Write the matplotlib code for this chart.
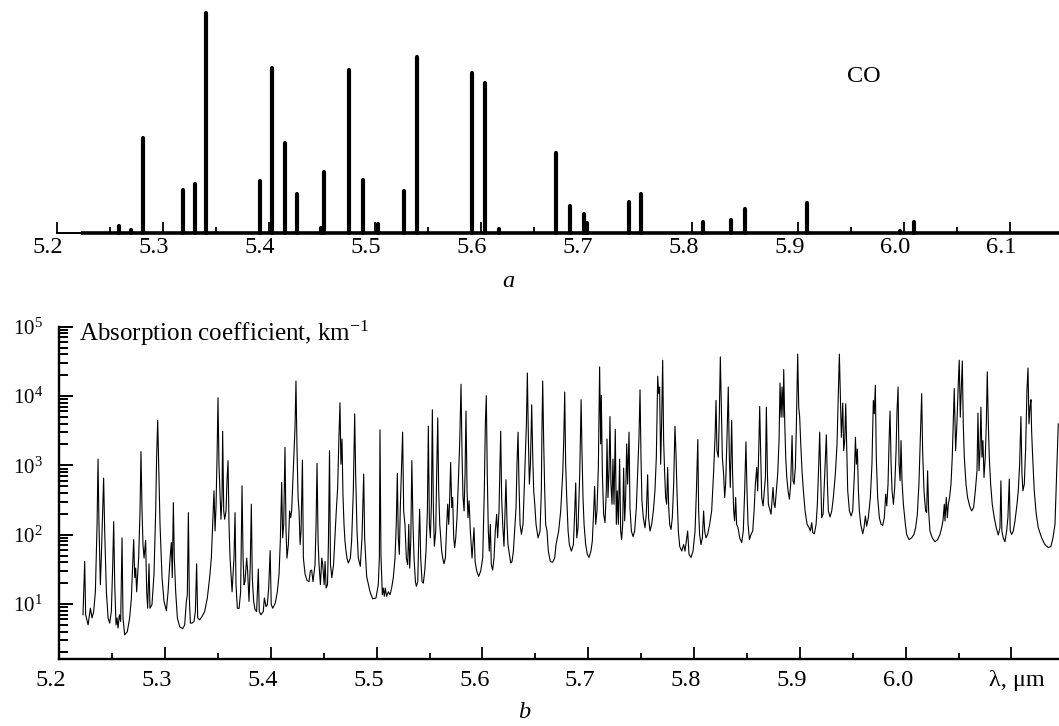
import matplotlib
matplotlib.use("Agg")
import matplotlib.pyplot as plt
import matplotlib.transforms as mtransforms
from matplotlib.ticker import MultipleLocator, LogLocator, FixedLocator, FixedFormatter, NullFormatter, LogFormatterMathtext

# ---------------- data: panel a (CO line intensities, relative) ----------------
co_wavelength = [5.2586, 5.2696, 5.2810, 5.3185, 5.3298, 5.3408, 5.3912, 5.4025, 5.4148, 5.4264,
                 5.4491, 5.4517, 5.4758, 5.4888, 5.5032, 5.5272, 5.5398, 5.5917, 5.6040, 5.6175,
                 5.6714, 5.6840, 5.6973, 5.7005, 5.7398, 5.7514, 5.8097, 5.8364, 5.8496, 5.9082,
                 5.9961, 6.0096]
co_intensity = [0.033, 0.015, 0.433, 0.196, 0.222, 1.000, 0.237, 0.751, 0.411, 0.178,
                0.024, 0.277, 0.740, 0.242, 0.042, 0.192, 0.801, 0.725, 0.683, 0.021,
                0.363, 0.122, 0.087, 0.045, 0.141, 0.178, 0.053, 0.059, 0.109, 0.139,
                0.012, 0.053]

# ---------------- data: panel b (absorption coefficient, km^-1) ----------------
lam_1 = [5.2224, 5.2240, 5.2249, 5.2272, 5.2294, 5.2309, 5.2325, 5.2341, 5.2357, 5.2366,
         5.2375, 5.2388, 5.2397, 5.2410, 5.2419, 5.2429, 5.2445, 5.2461, 5.2476, 5.2492,
         5.2505, 5.2514, 5.2524, 5.2536, 5.2546, 5.2555, 5.2568, 5.2580, 5.2593, 5.2602,
         5.2618, 5.2643, 5.2665, 5.2681, 5.2703, 5.2713, 5.2722, 5.2731, 5.2750, 5.2763,
         5.2772, 5.2782, 5.2791, 5.2801, 5.2816, 5.2826, 5.2835, 5.2848, 5.2857, 5.2876,
         5.2895, 5.2911, 5.2920, 5.2930, 5.2939, 5.2952, 5.2971, 5.2990, 5.3012, 5.3028,
         5.3047, 5.3059, 5.3068, 5.3078, 5.3087, 5.3100, 5.3116, 5.3138, 5.3166, 5.3185,
         5.3201, 5.3210, 5.3220, 5.3229, 5.3239, 5.3254, 5.3273, 5.3286, 5.3298, 5.3308,
         5.3327, 5.3349, 5.3374, 5.3399, 5.3421, 5.3437, 5.3450, 5.3462, 5.3472, 5.3481,
         5.3491, 5.3500, 5.3509, 5.3519, 5.3528, 5.3538, 5.3544, 5.3554, 5.3563, 5.3576,
         5.3585, 5.3595, 5.3604, 5.3614, 5.3633, 5.3651, 5.3661, 5.3670, 5.3683, 5.3699,
         5.3714, 5.3727, 5.3737, 5.3746]
k_1 = [7.0, 41, 7.0, 5.0, 8.7, 6.3, 7.8, 15, 141, 1230,
       141, 19, 46, 220, 655, 113, 15, 6.3, 5.3, 7.8,
       37, 154, 19, 5.0, 6.3, 4.5, 7.0, 5.6, 90, 6.3,
       3.6, 4.0, 6.3, 12, 85, 24, 33, 15, 46, 220,
       1580, 220, 72, 46, 83, 15, 8.7, 38, 8.7, 9.8,
       27, 220, 1310, 4440, 1040, 141, 24, 10.9, 8.0, 15,
       46, 77, 24, 290, 46, 15, 6.3, 4.7, 4.4, 5.0,
       10.9, 13.6, 208, 12.2, 5.3, 5.3, 5.6, 7.8, 38, 6.3,
       5.9, 6.6, 7.8, 12.2, 24, 46, 141, 429, 113, 246,
       1310, 9460, 1040, 384, 167, 344, 3110, 220, 167, 220,
       599, 1170, 141, 46, 15, 46, 208, 19, 8.7, 8.6,
       15, 507, 46, 19]

lam_2 = [5.3755, 5.3771, 5.3780, 5.3793, 5.3805, 5.3815, 5.3824, 5.3837, 5.3850, 5.3865,
         5.3881, 5.3890, 5.3906, 5.3928, 5.3938, 5.3954, 5.3966, 5.3979, 5.3993, 5.4003,
         5.4018, 5.4041, 5.4061, 5.4077, 5.4089, 5.4102, 5.4111, 5.4121, 5.4133, 5.4143,
         5.4152, 5.4165, 5.4177, 5.4187, 5.4196, 5.4206, 5.4215, 5.4228, 5.4237, 5.4247,
         5.4257, 5.4266, 5.4276, 5.4285, 5.4298, 5.4307, 5.4323, 5.4342, 5.4360, 5.4373,
         5.4385, 5.4398, 5.4417, 5.4427, 5.4436, 5.4446, 5.4455, 5.4468, 5.4481, 5.4490,
         5.4503, 5.4512, 5.4522, 5.4535, 5.4544, 5.4554, 5.4563, 5.4576, 5.4592, 5.4605,
         5.4618, 5.4631, 5.4643, 5.4653, 5.4662, 5.4672, 5.4681, 5.4691, 5.4700, 5.4710,
         5.4719, 5.4732, 5.4751, 5.4763, 5.4779, 5.4792, 5.4801, 5.4814, 5.4826, 5.4845,
         5.4861, 5.4877, 5.4886, 5.4905, 5.4937, 5.4962, 5.4993, 5.5015, 5.5025, 5.5031,
         5.5040, 5.5053, 5.5062, 5.5072, 5.5081, 5.5094, 5.5110, 5.5126, 5.5141, 5.5157,
         5.5173, 5.5185, 5.5195, 5.5204, 5.5214, 5.5223, 5.5236, 5.5245, 5.5255, 5.5267,
         5.5280, 5.5293, 5.5303, 5.5312, 5.5322, 5.5332]
k_2 = [21, 46, 30, 10.9, 37, 275, 24, 10.9, 8.3, 7.8,
       32, 7.8, 7.0, 7.8, 12.2, 9.2, 9.8, 17, 59, 9.8,
       8.7, 10.3, 15, 27, 81, 566, 90, 141, 1820, 113,
       46, 72, 220, 176, 220, 536, 1310, 3550, 16500, 1630,
       344, 220, 72, 113, 1190, 46, 27, 21.8, 21, 30,
       31, 21, 37, 141, 1070, 81, 37, 19, 46, 37,
       19, 41, 17, 19, 81, 1630, 37, 24, 37, 90,
       220, 480, 2540, 8000, 1040, 2400, 384, 141, 81, 58,
       46, 39, 46, 81, 429, 5540, 748, 113, 46, 35,
       90, 748, 90, 25, 15, 11.9, 12.2, 19, 46, 3250,
       52, 13.6, 17, 12.9, 17, 12.9, 15, 13.6, 17, 24,
       46, 141, 766, 90, 52, 246, 1040, 3010, 220, 141,
       46, 37, 141, 33, 81, 1170]

lam_3 = [5.5343, 5.5353, 5.5366, 5.5375, 5.5388, 5.5397, 5.5406, 5.5416, 5.5429, 5.5441,
         5.5454, 5.5466, 5.5479, 5.5488, 5.5498, 5.5507, 5.5517, 5.5526, 5.5536, 5.5545,
         5.5558, 5.5567, 5.5577, 5.5586, 5.5596, 5.5605, 5.5614, 5.5624, 5.5636, 5.5649,
         5.5662, 5.5671, 5.5681, 5.5690, 5.5699, 5.5709, 5.5718, 5.5728, 5.5737, 5.5747,
         5.5759, 5.5772, 5.5785, 5.5797, 5.5807, 5.5816, 5.5826, 5.5835, 5.5844, 5.5854,
         5.5863, 5.5873, 5.5885, 5.5901, 5.5920, 5.5930, 5.5945, 5.5964, 5.5983, 5.6002,
         5.6017, 5.6027, 5.6036, 5.6045, 5.6055, 5.6064, 5.6074, 5.6083, 5.6096, 5.6109,
         5.6121, 5.6134, 5.6143, 5.6156, 5.6172, 5.6181, 5.6191, 5.6203, 5.6213, 5.6222,
         5.6232, 5.6241, 5.6254, 5.6267, 5.6279, 5.6292, 5.6304, 5.6317, 5.6326, 5.6336,
         5.6345, 5.6355, 5.6368, 5.6383, 5.6399, 5.6415, 5.6424, 5.6434, 5.6443, 5.6453,
         5.6465, 5.6475, 5.6484, 5.6494, 5.6506, 5.6525, 5.6544, 5.6556, 5.6562, 5.6569,
         5.6578, 5.6588, 5.6597, 5.6610, 5.6622, 5.6641, 5.6663, 5.6682, 5.6695, 5.6707,
         5.6720, 5.6739, 5.6758, 5.6768, 5.6777, 5.6786, 5.6796, 5.6809, 5.6821, 5.6840,
         5.6859, 5.6872, 5.6881, 5.6891, 5.6903, 5.6919, 5.6932]
k_3 = [141, 46, 21, 18, 21, 81, 233, 46, 21, 20,
       30, 58, 220, 3670, 141, 90, 275, 6340, 220, 68,
       113, 748, 4850, 429, 141, 90, 58, 46, 38, 46,
       141, 275, 141, 344, 1100, 246, 344, 90, 65, 90,
       176, 599, 2280, 14800, 1310, 344, 220, 748, 6060, 429,
       176, 308, 113, 46, 126, 41, 30, 25, 30, 46,
       429, 3970, 10100, 748, 113, 58, 141, 37, 31, 46,
       113, 197, 90, 220, 3110, 344, 141, 68, 220, 620,
       141, 72, 52, 39, 41, 58, 113, 246, 1040, 3010,
       536, 141, 101, 141, 748, 3970, 21500, 2280, 536, 1040,
       7480, 1310, 429, 275, 141, 90, 113, 429, 3180, 16500,
       2280, 429, 141, 113, 58, 41, 40, 46, 72, 90,
       113, 220, 748, 2280, 11400, 1040, 344, 113, 72, 58,
       72, 220, 560, 90, 126, 748, 8850]

lam_4 = [5.6940, 5.6950, 5.6960, 5.6975, 5.6991, 5.7007, 5.7025, 5.7038, 5.7051, 5.7060,
         5.7070, 5.7082, 5.7095, 5.7107, 5.7117, 5.7123, 5.7133, 5.7145, 5.7158, 5.7170,
         5.7177, 5.7186, 5.7196, 5.7205, 5.7214, 5.7224, 5.7233, 5.7243, 5.7255, 5.7265,
         5.7274, 5.7284, 5.7296, 5.7306, 5.7315, 5.7325, 5.7334, 5.7344, 5.7353, 5.7363,
         5.7372, 5.7385, 5.7394, 5.7407, 5.7423, 5.7438, 5.7454, 5.7470, 5.7479, 5.7489,
         5.7498, 5.7507, 5.7520, 5.7536, 5.7548, 5.7561, 5.7570, 5.7583, 5.7599, 5.7615,
         5.7630, 5.7643, 5.7656, 5.7665, 5.7674, 5.7684, 5.7693, 5.7703, 5.7712, 5.7722,
         5.7731, 5.7741, 5.7750, 5.7760, 5.7769, 5.7782, 5.7794, 5.7807, 5.7819, 5.7829,
         5.7838, 5.7851, 5.7864, 5.7883, 5.7901, 5.7914, 5.7927, 5.7939, 5.7952, 5.7971,
         5.7990, 5.8009, 5.8022, 5.8035, 5.8043, 5.8052, 5.8065, 5.8078, 5.8090, 5.8100,
         5.8112, 5.8128, 5.8147, 5.8166, 5.8185, 5.8198, 5.8207, 5.8216, 5.8229, 5.8238,
         5.8248, 5.8257, 5.8267, 5.8279, 5.8289, 5.8298, 5.8311, 5.8323, 5.8333, 5.8342,
         5.8355, 5.8364, 5.8374, 5.8383, 5.8393, 5.8402, 5.8415, 5.8431, 5.8450, 5.8465,
         5.8478, 5.8490]
k_4 = [1630, 344, 141, 72, 52, 47, 58, 81, 220, 496,
       141, 220, 935, 26300, 2040, 10200, 748, 197, 149, 429,
       2400, 344, 836, 5070, 536, 275, 1230, 275, 3290, 141,
       429, 141, 1230, 113, 85, 141, 914, 158, 344, 2040,
       536, 3010, 246, 113, 94, 113, 246, 1040, 2540, 12300,
       1310, 308, 176, 126, 197, 731, 176, 113, 141, 220,
       429, 1310, 19300, 10800, 13500, 1040, 3970, 32900, 2280, 748,
       344, 275, 935, 246, 141, 119, 176, 536, 3670, 1460,
       429, 113, 68, 58, 72, 58, 81, 113, 52, 47,
       58, 113, 429, 2350, 220, 101, 72, 90, 220, 113,
       90, 101, 141, 220, 836, 2540, 8650, 1630, 1310, 4950,
       36700, 6920, 1310, 748, 344, 536, 2540, 13500, 1310, 480,
       4440, 748, 220, 158, 344, 141, 126, 90, 77, 113,
       429, 2180]

lam_5 = [5.8500, 5.8510, 5.8523, 5.8538, 5.8554, 5.8567, 5.8579, 5.8592, 5.8601, 5.8611,
         5.8620, 5.8630, 5.8639, 5.8652, 5.8664, 5.8674, 5.8683, 5.8693, 5.8702, 5.8715,
         5.8727, 5.8737, 5.8746, 5.8756, 5.8765, 5.8778, 5.8790, 5.8803, 5.8812, 5.8822,
         5.8831, 5.8841, 5.8847, 5.8857, 5.8866, 5.8876, 5.8888, 5.8901, 5.8913, 5.8926,
         5.8935, 5.8945, 5.8957, 5.8967, 5.8979, 5.8989, 5.8998, 5.9008, 5.9020, 5.9033,
         5.9049, 5.9068, 5.9087, 5.9099, 5.9112, 5.9121, 5.9137, 5.9153, 5.9165, 5.9178,
         5.9187, 5.9197, 5.9206, 5.9219, 5.9231, 5.9241, 5.9250, 5.9260, 5.9269, 5.9285,
         5.9301, 5.9316, 5.9335, 5.9351, 5.9364, 5.9373, 5.9383, 5.9392, 5.9405, 5.9414,
         5.9424, 5.9433, 5.9443, 5.9452, 5.9468, 5.9484, 5.9499, 5.9515, 5.9525, 5.9534,
         5.9543, 5.9553, 5.9562, 5.9575, 5.9594, 5.9606, 5.9619, 5.9631, 5.9647, 5.9666,
         5.9681, 5.9694, 5.9703, 5.9713, 5.9722, 5.9735, 5.9751, 5.9767, 5.9783, 5.9798,
         5.9811, 5.9821, 5.9833, 5.9843, 5.9852, 5.9862, 5.9871, 5.9884, 5.9896, 5.9909,
         5.9918, 5.9928, 5.9937, 5.9947, 5.9956, 5.9965, 5.9978, 5.9997]
k_5 = [429, 141, 85, 101, 113, 220, 536, 935, 429, 1630,
       7080, 1310, 344, 260, 429, 670, 6920, 748, 275, 233,
       197, 308, 480, 275, 246, 429, 748, 2280, 15400, 4950,
       13500, 4950, 24100, 3970, 1310, 670, 429, 325, 536, 2690,
       599, 536, 935, 3970, 40200, 6920, 4950, 2040, 836, 429,
       220, 141, 126, 113, 149, 107, 103, 141, 275, 1040,
       3010, 670, 176, 197, 536, 1310, 2750, 536, 220, 180,
       220, 344, 748, 2040, 12100, 40200, 9660, 2540, 7910, 1630,
       2280, 7740, 1630, 429, 220, 186, 220, 748, 2540, 1040,
       1720, 429, 220, 141, 103, 126, 186, 133, 176, 344,
       1040, 8650, 5540, 14300, 1310, 344, 176, 141, 136, 176,
       384, 260, 536, 2280, 6060, 1040, 429, 275, 480, 1630,
       6190, 13500, 1040, 599, 2280, 599, 275, 141]

lam_6 = [6.0009, 6.0031, 6.0056, 6.0078, 6.0094, 6.0110, 6.0125, 6.0138, 6.0151, 6.0160,
         6.0173, 6.0188, 6.0198, 6.0207, 6.0217, 6.0229, 6.0251, 6.0277, 6.0302, 6.0324,
         6.0340, 6.0352, 6.0365, 6.0371, 6.0384, 6.0393, 6.0403, 6.0415, 6.0428, 6.0440,
         6.0459, 6.0472, 6.0484, 6.0497, 6.0506, 6.0516, 6.0525, 6.0535, 6.0544, 6.0554,
         6.0570, 6.0585, 6.0604, 6.0623, 6.0642, 6.0658, 6.0674, 6.0683, 6.0693, 6.0702,
         6.0711, 6.0721, 6.0730, 6.0740, 6.0752, 6.0762, 6.0771, 6.0781, 6.0790, 6.0803,
         6.0818, 6.0837, 6.0856, 6.0875, 6.0891, 6.0900, 6.0909, 6.0922, 6.0938, 6.0954,
         6.0966, 6.0979, 6.0988, 6.1001, 6.1017, 6.1033, 6.1052, 6.1064, 6.1077, 6.1089,
         6.1099, 6.1108, 6.1121, 6.1134, 6.1146, 6.1156, 6.1165, 6.1175, 6.1184, 6.1190,
         6.1200, 6.1215, 6.1234, 6.1253, 6.1285, 6.1316, 6.1348, 6.1373, 6.1392, 6.1411,
         6.1427, 6.1442]
k_6 = [101, 85, 90, 101, 126, 197, 536, 2280, 10800, 1630,
       429, 220, 208, 836, 220, 113, 90, 79, 85, 101,
       126, 158, 275, 158, 344, 176, 275, 344, 536, 1310,
       12800, 1630, 3970, 15100, 32900, 4950, 12100, 32100, 3970, 1310,
       536, 344, 260, 220, 246, 429, 836, 5660, 836, 1630,
       6920, 1310, 2280, 670, 1310, 3970, 22300, 3970, 1310, 536,
       275, 176, 126, 99, 126, 599, 113, 90, 79, 113,
       176, 634, 113, 101, 113, 158, 275, 429, 1040, 5070,
       748, 429, 536, 1820, 12100, 25400, 3970, 6920, 8850, 3180,
       1310, 429, 197, 126, 90, 72, 65, 68, 90, 141,
       748, 3970]

spec_wavelength = lam_1 + lam_2 + lam_3 + lam_4 + lam_5 + lam_6
spec_k = k_1 + k_2 + k_3 + k_4 + k_5 + k_6
assert len(spec_wavelength) == len(spec_k)

# tick labels
xticks_a = [5.2, 5.3, 5.4, 5.5, 5.6, 5.7, 5.8, 5.9, 6.0, 6.1]
xlabels_a = ["5.2", "5.3", "5.4", "5.5", "5.6", "5.7", "5.8", "5.9", "6.0", "6.1"]
xticks_b = [5.2, 5.3, 5.4, 5.5, 5.6, 5.7, 5.8, 5.9, 6.0, 6.1]
xlabels_b = ["5.2", "5.3", "5.4", "5.5", "5.6", "5.7", "5.8", "5.9", "6.0", "λ, μm"]

# ---------------- styling ----------------
plt.rcParams['font.family'] = ['Liberation Serif', 'DejaVu Serif']
plt.rcParams['mathtext.fontset'] = 'custom'
plt.rcParams['mathtext.rm'] = 'Liberation Serif'
plt.rcParams['mathtext.it'] = 'Liberation Serif:italic'
FS = 17.5

W, H = 1059, 726
fig = plt.figure(figsize=(W / 100, H / 100), dpi=100)


def px_axes(x0, y0, x1, y1):
    return fig.add_axes([x0 / W, 1 - y1 / H, (x1 - x0) / W, (y1 - y0) / H])


def shift_labels(ax, dx_px_list):
    for lab, dx in zip(ax.get_xticklabels(), dx_px_list):
        lab.set_transform(lab.get_transform() +
                          mtransforms.ScaledTranslation(dx / 100, 0, fig.dpi_scale_trans))


# ---------------- panel a ----------------
axa = px_axes(57.3, 10, 1059, 233.3)
axa.set_xlim(5.2, 5.2 + (1059 - 57.3) / 1058.6)
axa.set_ylim(0, 1.0122)
axa.vlines(co_wavelength, 0, co_intensity, colors='black', linewidth=3.0,
           capstyle='round', clip_on=False, zorder=3)
axa.hlines(0, spec_wavelength[0], axa.get_xlim()[1], colors='black', linewidth=2.6,
           clip_on=False, zorder=3)
for s in ['left', 'right', 'top']:
    axa.spines[s].set_visible(False)
axa.spines['bottom'].set_linewidth(1.4)
axa.xaxis.set_major_locator(FixedLocator(xticks_a))
axa.xaxis.set_major_formatter(FixedFormatter(xlabels_a))
axa.xaxis.set_minor_locator(MultipleLocator(0.05))
axa.tick_params(axis='x', which='major', direction='in', length=8, width=1.3,
                labelsize=FS, pad=3)
axa.tick_params(axis='x', which='minor', direction='in', length=4, width=1.3)
axa.set_yticks([])
shift_labels(axa, [-9] * len(xticks_a))
fig.text(864 / W, 1 - 77 / H, "CO", ha='center', va='center', fontsize=FS)
fig.text(508 / W, 1 - 281 / H, "a", ha='center', va='center', fontsize=FS, style='italic')

# ---------------- panel b ----------------
axb = px_axes(59.3, 326.7, 1059, 659)
axb.plot(spec_wavelength, spec_k, color='black', linewidth=0.8)
axb.set_yscale('log')
axb.set_xlim(5.2, 5.2 + (1059 - 59.3) / 1058)
axb.set_ylim(1.61, 1e5)
for s in ['right', 'top']:
    axb.spines[s].set_visible(False)
axb.spines['bottom'].set_linewidth(1.7)
axb.spines['left'].set_linewidth(1.7)
axb.xaxis.set_major_locator(FixedLocator(xticks_b))
axb.xaxis.set_major_formatter(FixedFormatter(xlabels_b))
axb.xaxis.set_minor_locator(MultipleLocator(0.05))
axb.yaxis.set_major_locator(LogLocator(base=10))
axb.yaxis.set_minor_locator(LogLocator(base=10, subs=[2, 3, 4, 5, 6, 7, 8, 9]))
axb.yaxis.set_major_formatter(LogFormatterMathtext())
axb.yaxis.set_minor_formatter(NullFormatter())
axb.tick_params(axis='x', which='major', direction='in', length=8.5, width=1.3,
                labelsize=FS, pad=8)
axb.tick_params(axis='x', which='minor', direction='in', length=4.3, width=1.3)
axb.tick_params(axis='y', which='major', direction='in', length=10, width=1.4,
                labelsize=15, pad=12)
axb.tick_params(axis='y', which='minor', direction='in', length=6.5, width=1.4)
shift_labels(axb, [-8] * (len(xticks_b) - 1) + [5])
fig.text(79 / W, 1 - 333 / H, "Absorption coefficient, km$^{-1}$", ha='left', va='center',
         fontsize=18)
fig.text(524 / W, 1 - 712 / H, "b", ha='center', va='center', fontsize=FS, style='italic')

fig.savefig("out.png", dpi=100)
